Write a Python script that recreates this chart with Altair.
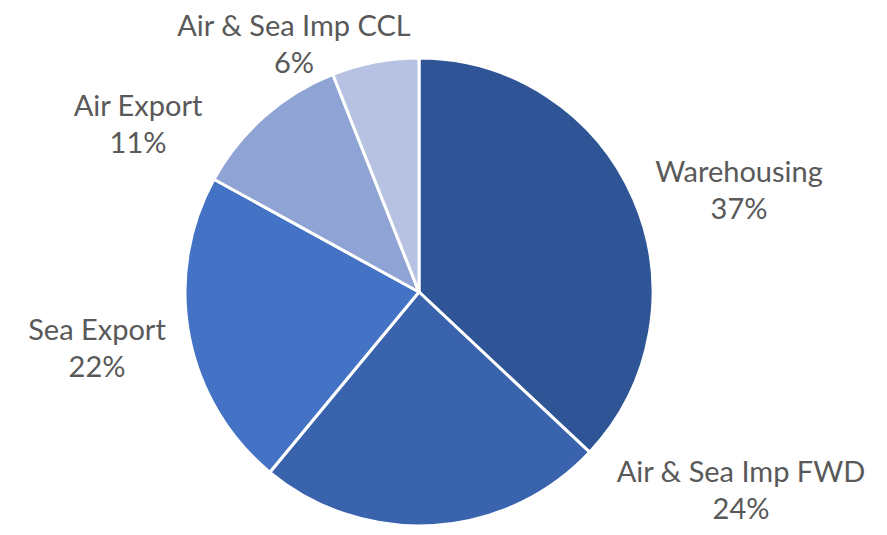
import altair as alt
import pandas as pd

categories = ["Warehousing", "Air & Sea Imp FWD", "Sea Export", "Air Export", "Air & Sea Imp CCL"]
shares = [37, 24, 22, 11, 6]
colors = ["#2F5597", "#3A63AE", "#4472C4", "#8FA3D4", "#B7C2E3"]

# label layout (chart pixel coords of the first label line centre)
label_x = [731, 733, 89, 130, 286]
label_y = [165, 465, 323, 99, 19]

df = pd.DataFrame({
    "category": categories,
    "share": shares,
    "order": list(range(len(categories))),
    "label": [f"{c}\n{s}%" for c, s in zip(categories, shares)],
    "lx": label_x,
    "ly": label_y,
})

pie = alt.Chart(df).mark_arc(outerRadius=234, stroke="white", strokeWidth=3).encode(
    theta=alt.Theta("share:Q", stack=True),
    order=alt.Order("order:Q"),
    color=alt.Color("category:N", scale=alt.Scale(domain=categories, range=colors), legend=None),
    x=alt.value(411),
    y=alt.value(284),
)

labels = alt.Chart(df).mark_text(
    font="Lato", fontSize=29, color="#595959", lineBreak="\n", lineHeight=37,
    align="center", baseline="middle",
).encode(
    x=alt.X("lx:Q", scale=alt.Scale(domain=[0, 871], range=[0, 871]), axis=None),
    y=alt.Y("ly:Q", scale=alt.Scale(domain=[0, 519], range=[0, 519]), axis=None),
    text="label:N",
)

chart = alt.layer(pie, labels).properties(
    width=871, height=519, padding=0, autosize="none"
).configure_view(stroke=None)

chart.save("out.html", embed_options={"renderer": "svg", "actions": False})
